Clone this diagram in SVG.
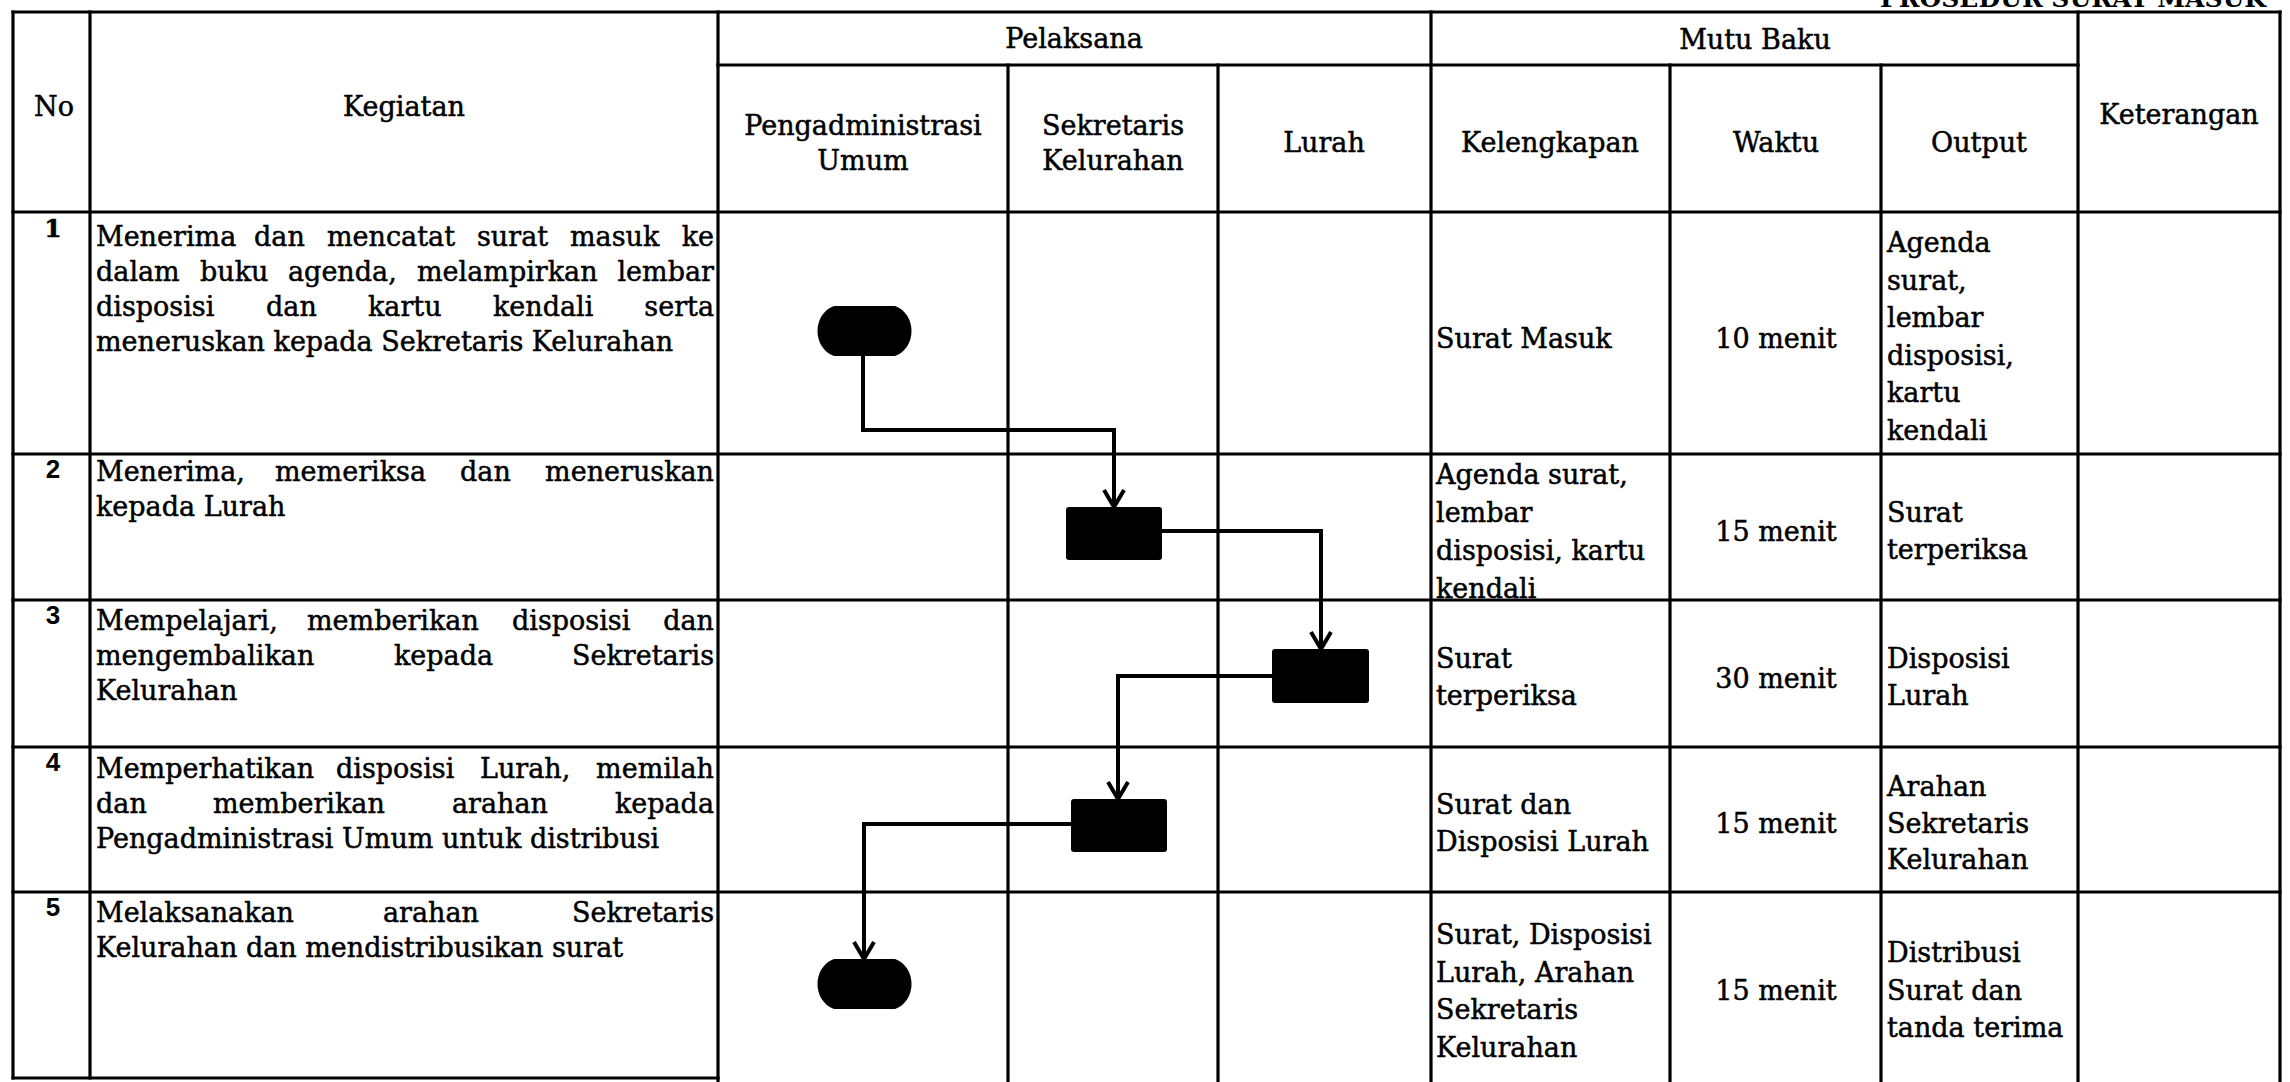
<svg xmlns="http://www.w3.org/2000/svg" width="2290" height="1082" viewBox="0 0 2290 1082">
  <style>
    .t { font-family: "DejaVu Serif", "Liberation Serif", serif; font-size: 27px; fill: #000; stroke: #000; stroke-width: 0.5; }
    .c { text-anchor: middle; }
    .e { text-anchor: end; }
    .num { font-family: "Liberation Sans", Arial, sans-serif; font-weight: bold; font-size: 26px; fill: #000; text-anchor: middle; }
    .title { font-family: "DejaVu Serif", "Liberation Serif", serif; font-weight: bold; font-size: 25px; fill: #000; text-anchor: end; }
    .grid line { stroke: #000; stroke-width: 3.2; stroke-linecap: square; }
    .shape { fill: #000; }
    .flow { fill: none; stroke: #000; stroke-width: 4; stroke-linejoin: miter; }
  </style>
  <defs>
    <marker id="arrow" viewBox="-20 -13 24 26" refX="0" refY="0" markerWidth="24" markerHeight="26" markerUnits="userSpaceOnUse" orient="auto">
      <path d="M-17,-10 L0,0 L-17,10" fill="none" stroke="#000" stroke-width="4"/>
    </marker>
  </defs>

  <rect width="2290" height="1082" fill="#fff"/>

  <!-- page heading, cut off by the top edge -->
  <text class="title" x="2266" y="7">PROSEDUR SURAT MASUK</text>

  <!-- table grid -->
  <g class="grid">
    <line x1="13" y1="12" x2="2280" y2="12"/>
    <line x1="718" y1="65" x2="2078" y2="65"/>
    <line x1="13" y1="212" x2="2280" y2="212"/>
    <line x1="13" y1="454" x2="2280" y2="454"/>
    <line x1="13" y1="600" x2="2280" y2="600"/>
    <line x1="13" y1="747" x2="2280" y2="747"/>
    <line x1="13" y1="892" x2="2280" y2="892"/>
    <line x1="13" y1="1078" x2="718" y2="1078"/>
    <line x1="13" y1="12" x2="13" y2="1078"/>
    <line x1="90" y1="12" x2="90" y2="1078"/>
    <line x1="718" y1="12" x2="718" y2="1082"/>
    <line x1="1008" y1="65" x2="1008" y2="1082"/>
    <line x1="1218" y1="65" x2="1218" y2="1082"/>
    <line x1="1431" y1="12" x2="1431" y2="1082"/>
    <line x1="1670" y1="65" x2="1670" y2="1082"/>
    <line x1="1881" y1="65" x2="1881" y2="1082"/>
    <line x1="2078" y1="12" x2="2078" y2="1082"/>
    <line x1="2280" y1="12" x2="2280" y2="1082"/>
  </g>

  <!-- header -->
  <g id="header">
    <text class="t c" x="54" y="116">No</text>
    <text class="t c" x="404" y="116">Kegiatan</text>
    <text class="t c" x="1074" y="48">Pelaksana</text>
    <text class="t c" x="1755" y="49">Mutu Baku</text>
    <text class="t c" x="863" y="135">Pengadministrasi</text>
    <text class="t c" x="863" y="170">Umum</text>
    <text class="t c" x="1113" y="135">Sekretaris</text>
    <text class="t c" x="1113" y="170">Kelurahan</text>
    <text class="t c" x="1324" y="152">Lurah</text>
    <text class="t c" x="1550" y="152">Kelengkapan</text>
    <text class="t c" x="1776" y="152">Waktu</text>
    <text class="t c" x="1979" y="152">Output</text>
    <text class="t c" x="2179" y="124">Keterangan</text>
  </g>

  <!-- row 1 -->
  <g id="row-1">
    <text class="t c" x="53" y="237" style="font-size:25px;font-weight:bold">1</text>
    <text class="t" y="246"><tspan x="96">Menerima</tspan><tspan x="254">dan</tspan><tspan x="327">mencatat</tspan><tspan x="477">surat</tspan><tspan x="570">masuk</tspan><tspan x="714" class="e">ke</tspan></text>
    <text class="t" y="281"><tspan x="96">dalam</tspan><tspan x="200">buku</tspan><tspan x="288">agenda,</tspan><tspan x="417">melampirkan</tspan><tspan x="714" class="e">lembar</tspan></text>
    <text class="t" y="316"><tspan x="96">disposisi</tspan><tspan x="266">dan</tspan><tspan x="368">kartu</tspan><tspan x="493">kendali</tspan><tspan x="714" class="e">serta</tspan></text>
    <text class="t" x="96" y="351">meneruskan kepada Sekretaris Kelurahan</text>
    <text class="t" x="1436" y="348">Surat Masuk</text>
    <text class="t c" x="1776" y="348">10 menit</text>
    <text class="t" x="1887" y="252">Agenda</text>
    <text class="t" x="1887" y="290">surat,</text>
    <text class="t" x="1887" y="327">lembar</text>
    <text class="t" x="1887" y="365">disposisi,</text>
    <text class="t" x="1887" y="402">kartu</text>
    <text class="t" x="1887" y="440">kendali</text>
  </g>

  <!-- row 2 -->
  <g id="row-2">
    <text class="num" x="53" y="478">2</text>
    <text class="t" y="481"><tspan x="96">Menerima,</tspan><tspan x="275">memeriksa</tspan><tspan x="460">dan</tspan><tspan x="714" class="e">meneruskan</tspan></text>
    <text class="t" x="96" y="516">kepada Lurah</text>
    <text class="t" x="1436" y="484">Agenda surat,</text>
    <text class="t" x="1436" y="522">lembar</text>
    <text class="t" x="1436" y="560">disposisi, kartu</text>
    <text class="t" x="1436" y="598">kendali</text>
    <text class="t c" x="1776" y="541">15 menit</text>
    <text class="t" x="1887" y="522">Surat</text>
    <text class="t" x="1887" y="559">terperiksa</text>
  </g>

  <!-- row 3 -->
  <g id="row-3">
    <text class="num" x="53" y="624">3</text>
    <text class="t" y="630"><tspan x="96">Mempelajari,</tspan><tspan x="307">memberikan</tspan><tspan x="512">disposisi</tspan><tspan x="714" class="e">dan</tspan></text>
    <text class="t" y="665"><tspan x="96">mengembalikan</tspan><tspan x="394">kepada</tspan><tspan x="714" class="e">Sekretaris</tspan></text>
    <text class="t" x="96" y="700">Kelurahan</text>
    <text class="t" x="1436" y="668">Surat</text>
    <text class="t" x="1436" y="705">terperiksa</text>
    <text class="t c" x="1776" y="688">30 menit</text>
    <text class="t" x="1887" y="668">Disposisi</text>
    <text class="t" x="1887" y="705">Lurah</text>
  </g>

  <!-- row 4 -->
  <g id="row-4">
    <text class="num" x="53" y="771">4</text>
    <text class="t" y="778"><tspan x="96">Memperhatikan</tspan><tspan x="336">disposisi</tspan><tspan x="480">Lurah,</tspan><tspan x="714" class="e">memilah</tspan></text>
    <text class="t" y="813"><tspan x="96">dan</tspan><tspan x="213">memberikan</tspan><tspan x="452">arahan</tspan><tspan x="714" class="e">kepada</tspan></text>
    <text class="t" x="96" y="848">Pengadministrasi Umum untuk distribusi</text>
    <text class="t" x="1436" y="814">Surat dan</text>
    <text class="t" x="1436" y="851">Disposisi Lurah</text>
    <text class="t c" x="1776" y="833">15 menit</text>
    <text class="t" x="1887" y="796">Arahan</text>
    <text class="t" x="1887" y="833">Sekretaris</text>
    <text class="t" x="1887" y="869">Kelurahan</text>
  </g>

  <!-- row 5 -->
  <g id="row-5">
    <text class="num" x="53" y="916">5</text>
    <text class="t" y="922"><tspan x="96">Melaksanakan</tspan><tspan x="383">arahan</tspan><tspan x="714" class="e">Sekretaris</tspan></text>
    <text class="t" x="96" y="957">Kelurahan dan mendistribusikan surat</text>
    <text class="t" x="1436" y="944">Surat, Disposisi</text>
    <text class="t" x="1436" y="982">Lurah, Arahan</text>
    <text class="t" x="1436" y="1019">Sekretaris</text>
    <text class="t" x="1436" y="1057">Kelurahan</text>
    <text class="t c" x="1776" y="1000">15 menit</text>
    <text class="t" x="1887" y="962">Distribusi</text>
    <text class="t" x="1887" y="1000">Surat dan</text>
    <text class="t" x="1887" y="1037">tanda terima</text>
  </g>

  <!-- flow connectors -->
  <g id="connectors">
    <path class="flow" d="M863,356 V430 H1114 V507" marker-end="url(#arrow)"/>
    <path class="flow" d="M1162,531 H1321 V649" marker-end="url(#arrow)"/>
    <path class="flow" d="M1272,676 H1118 V799" marker-end="url(#arrow)"/>
    <path class="flow" d="M1071,824 H864 V959" marker-end="url(#arrow)"/>
  </g>

  <!-- flow symbols: barrel-shaped start/end, filled process boxes -->
  <g id="n1-start"><path class="shape" d="M834,306 H895 C917,314 917,348 895,356 H834 C812,348 812,314 834,306 Z"/></g>
  <g id="n2-periksa"><rect class="shape" x="1066" y="507" width="96" height="53" rx="3"/></g>
  <g id="n3-disposisi"><rect class="shape" x="1272" y="649" width="97" height="54" rx="3"/></g>
  <g id="n4-arahan"><rect class="shape" x="1071" y="799" width="96" height="53" rx="3"/></g>
  <g id="n5-end"><path class="shape" d="M834,959 H895 C917,967 917,1001 895,1009 H834 C812,1001 812,967 834,959 Z"/></g>
</svg>
